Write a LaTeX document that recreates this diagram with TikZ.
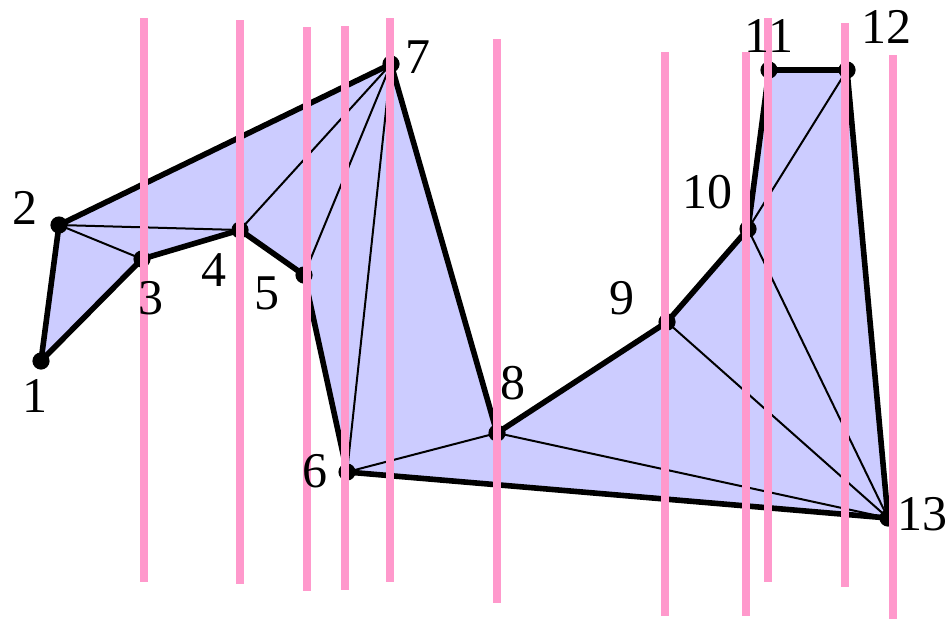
\documentclass[tikz,border=0pt]{standalone}
\usepackage{fontspec}
\setmainfont{Liberation Serif}
\usepackage{xcolor}
\definecolor{polyfill}{RGB}{204,204,255}
\definecolor{sweepline}{RGB}{255,153,204}
\tikzset{
  edge/.style={line width=2.8pt, line join=round, line cap=round},
  diag/.style={line width=1pt},
  vlabel/.style={font=\fontsize{25}{30}\selectfont, inner sep=0pt},
  vdot/.style={fill=black},
  sweep/.style={sweepline, line width=4pt}
}

\begin{document}
\begin{tikzpicture}[x=0.5pt, y=-0.5pt]
  \useasboundingbox (0,0) rectangle (947,618);
  % vertices
  \coordinate (p1) at (41,361);
  \coordinate (p2) at (59,225);
  \coordinate (p3) at (142,259);
  \coordinate (p4) at (240,230);
  \coordinate (p5) at (304,275);
  \coordinate (p6) at (347,472);
  \coordinate (p7) at (391,64);
  \coordinate (p8) at (497,433);
  \coordinate (p9) at (667,322);
  \coordinate (p10) at (748,229);
  \coordinate (p11) at (769,70);
  \coordinate (p12) at (847,70);
  \coordinate (p13) at (888,518);
  % polygon
  \fill[polyfill] (p1) -- (p2) -- (p7) -- (p8) -- (p9) -- (p10) -- (p11) -- (p12)
    -- (p13) -- (p6) -- (p5) -- (p4) -- (p3) -- cycle;
  % triangulation
  \draw[diag] (p2) -- (p3);
  \draw[diag] (p2) -- (p4);
  \draw[diag] (p4) -- (p7);
  \draw[diag] (p5) -- (p7);
  \draw[diag] (p6) -- (p7);
  \draw[diag] (p6) -- (p8);
  \draw[diag] (p8) -- (p13);
  \draw[diag] (p9) -- (p13);
  \draw[diag] (p10) -- (p13);
  \draw[diag] (p10) -- (p12);
  \draw[edge] (p1) -- (p2) -- (p7) -- (p8) -- (p9) -- (p10) -- (p11) -- (p12)
    -- (p13) -- (p6) -- (p5) -- (p4) -- (p3) -- cycle;
  \foreach \i in {1,...,13}
    \fill[vdot] (p\i) circle (4.3pt);
  % sweep lines
  \foreach \x/\top in {144/18, 240/20, 307/27, 345/26, 390/18, 497/39,
                       665/52, 746/52, 768/18, 845/23, 893/55}
    \draw[sweep] (\x,\top) -- ++(0,564);
  % labels
  \node[vlabel] (l1) at (35,396) {1};
  \node[vlabel] (l2) at (25,208) {2};
  \node[vlabel] (l3) at (151,298) {3};
  \node[vlabel] (l4) at (214,270) {4};
  \node[vlabel] (l5) at (267,293) {5};
  \node[vlabel] (l6) at (315,471) {6};
  \node[vlabel] (l7) at (418,57) {7};
  \node[vlabel] (l8) at (513,383) {8};
  \node[vlabel] (l9) at (622,298) {9};
  \node[vlabel] (l10) at (707,192) {10};
  \node[vlabel] (l11) at (769,36) {11};
  \node[vlabel] (l12) at (886,27) {12};
  \node[vlabel] (l13) at (922,514) {13};
\end{tikzpicture}
\end{document}
